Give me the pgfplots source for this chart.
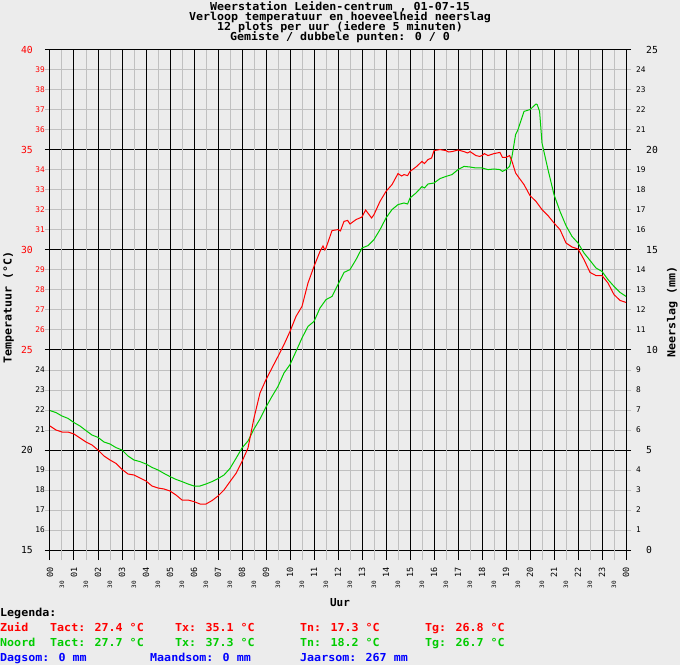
\documentclass[border=0pt]{standalone}
\usepackage{pgfplots}
\pgfplotsset{compat=1.18}
\usepackage{fontspec}
\newfontfamily\pix{DejaVu Sans Mono}
\definecolor{bg}{RGB}{236,236,236}
\definecolor{lgray}{RGB}{192,192,192}
\definecolor{ngreen}{RGB}{0,204,0}
\definecolor{nblue}{RGB}{0,0,255}
\newcommand\tfont{\pix\bfseries\fontsize{11}{10}\selectfont}
\newcommand\majf{\pix\fontsize{9.7}{10}\selectfont}
\newcommand\minf{\pix\fontsize{7.8}{8}\selectfont}
\newcommand\hrf{\pix\fontsize{8.5}{8}\selectfont}
\newcommand\hhf{\pix\fontsize{6}{6}\selectfont}
\newcommand\Rm[1]{\textcolor{red}{\majf #1}\hspace*{12pt}}
\newcommand\Km[1]{{\majf #1}\hspace*{12pt}}
\newcommand\Rs[1]{\textcolor{red}{\minf #1}}
\newcommand\Ks[1]{{\minf #1}}
\newcommand\Jm[1]{\hspace*{10pt}{\majf #1}}
\newcommand\Js[1]{{\minf #1}}
\newcommand\Hr[1]{#1\hspace*{7pt}}
\newcommand\Hh{{\hhf 30}\hspace*{21pt}}
\newcommand\W[1]{\scalebox{1.06}[1]{#1}}

\pgfplotstableread{
h T
0 21.2
0.25 21.0
0.5 20.9
0.75 20.9
1 20.8
1.25 20.6
1.5 20.4
1.75 20.25
2 20.0
2.25 19.7
2.5 19.5
2.75 19.33
3 19.03
3.25 18.8
3.5 18.75
3.75 18.6
4 18.45
4.25 18.2
4.5 18.1
4.75 18.05
5 17.95
5.25 17.75
5.5 17.5
5.75 17.5
6 17.42
6.25 17.3
6.5 17.3
6.75 17.47
7 17.7
7.25 18.0
7.5 18.42
7.75 18.83
8 19.42
8.25 20.1
8.5 21.6
8.75 22.85
9 23.52
9.25 24.1
9.5 24.68
9.75 25.27
10 25.93
10.25 26.68
10.5 27.18
10.75 28.35
11 29.18
11.25 29.93
11.375 30.2
11.45 30.0
11.5 30.1
11.75 30.97
12 31.02
12.1 30.95
12.25 31.43
12.4 31.48
12.5 31.3
12.75 31.52
13 31.65
13.15 32.0
13.4 31.6
13.5 31.77
13.75 32.43
14 32.93
14.25 33.27
14.5 33.82
14.65 33.7
14.75 33.77
14.9 33.72
15 33.93
15.25 34.15
15.5 34.43
15.6 34.32
15.75 34.52
15.9 34.6
16 34.97
16.25 35.02
16.5 34.97
16.6 34.9
16.75 34.92
17 35.0
17.25 34.92
17.4 34.85
17.5 34.92
17.75 34.72
17.9 34.68
18 34.72
18.1 34.82
18.25 34.72
18.5 34.82
18.75 34.88
18.85 34.63
19 34.63
19.15 34.72
19.25 34.43
19.4 33.85
19.5 33.68
19.75 33.27
20 32.72
20.25 32.43
20.5 32.02
20.75 31.72
21 31.35
21.25 31.02
21.5 30.35
21.75 30.15
22 30.05
22.25 29.52
22.5 28.88
22.75 28.72
23 28.72
23.25 28.35
23.5 27.77
23.75 27.48
24 27.38
}\zuid

\pgfplotstableread{
h T
0 21.97
0.25 21.87
0.5 21.7
0.75 21.58
1 21.37
1.25 21.2
1.5 20.97
1.75 20.75
2 20.63
2.25 20.4
2.5 20.3
2.75 20.12
3 20.0
3.25 19.7
3.5 19.5
3.75 19.42
4 19.3
4.25 19.13
4.5 19.0
4.75 18.83
5 18.67
5.25 18.53
5.5 18.42
5.75 18.3
6 18.2
6.25 18.2
6.5 18.3
6.75 18.42
7 18.57
7.25 18.75
7.5 19.08
7.75 19.58
8 20.1
8.25 20.45
8.5 21.05
8.75 21.55
9 22.15
9.25 22.68
9.5 23.18
9.75 23.85
10 24.27
10.25 24.93
10.5 25.6
10.75 26.18
11 26.43
11.25 27.1
11.5 27.52
11.75 27.68
12 28.27
12.25 28.88
12.5 29.02
12.75 29.52
13 30.1
13.25 30.22
13.5 30.52
13.75 31.02
14 31.6
14.25 32.02
14.5 32.27
14.75 32.35
14.9 32.3
15 32.6
15.25 32.85
15.5 33.17
15.6 33.1
15.75 33.3
16 33.35
16.25 33.57
16.5 33.68
16.75 33.77
17 34.02
17.25 34.18
17.5 34.15
17.75 34.1
18 34.1
18.25 34.02
18.5 34.05
18.75 34.02
18.85 33.93
19 34.02
19.15 34.18
19.25 34.68
19.4 35.77
19.5 36.02
19.75 36.93
20 37.02
20.25 37.3
20.3 37.27
20.4 36.93
20.5 35.35
20.75 34.02
21 32.77
21.25 31.93
21.5 31.22
21.75 30.68
22 30.35
22.25 29.85
22.5 29.48
22.75 29.1
23 28.93
23.25 28.52
23.5 28.18
23.75 27.88
24 27.68
}\noord

\begin{document}
\begin{tikzpicture}
\fill[bg] (0,0) rectangle (680pt,665pt);
\useasboundingbox (0,0) rectangle (680pt,665pt);

% Axis B: horizontal grid, left tick labels
\begin{axis}[at={(50pt,115pt)}, anchor=south west, scale only axis,
  width=576pt, height=500pt, xmin=0, xmax=24, ymin=15, ymax=40,
  axis line style={draw=none}, xtick=\empty,
  ytick={15,20,...,40},
  yticklabels={\Km{15},\Km{20},\Rm{25},\Rm{30},\Rm{35},\Rm{40}},
  tick align=outside, major tick length=5pt,
  ymajorgrids, major grid style={black, line width=1pt},
  major tick style={black, line width=1pt},
  yticklabel style={anchor=east, inner sep=0pt},
  extra y ticks={16,17,18,19,21,22,23,24,26,27,28,29,31,32,33,34,36,37,38,39},
  extra y tick labels={\Ks{16},\Ks{17},\Ks{18},\Ks{19},\Ks{21},\Ks{22},\Ks{23},\Ks{24},\Rs{26},\Rs{27},\Rs{28},\Rs{29},\Rs{31},\Rs{32},\Rs{33},\Rs{34},\Rs{36},\Rs{37},\Rs{38},\Rs{39}},
  extra y tick style={ymajorgrids, major grid style={lgray, line width=1pt}, major tick style={lgray, line width=1pt}},
  ylabel={\W{Temperatuur (°C)}},
  ylabel style={at={(axis description cs:-0.0667,0.485)}, anchor=base, font=\tfont, inner sep=0pt},
]
\end{axis}

% Axis A: vertical grid, hour labels, data
\begin{axis}[at={(50pt,115pt)}, anchor=south west, scale only axis,
  width=576pt, height=500pt, xmin=0, xmax=24, ymin=15, ymax=40,
  axis line style={draw=none}, ytick=\empty,
  xtick={0,1,...,24},
  xticklabels={\Hr{00},\Hr{01},\Hr{02},\Hr{03},\Hr{04},\Hr{05},\Hr{06},\Hr{07},\Hr{08},\Hr{09},\Hr{10},\Hr{11},\Hr{12},\Hr{13},\Hr{14},\Hr{15},\Hr{16},\Hr{17},\Hr{18},\Hr{19},\Hr{20},\Hr{21},\Hr{22},\Hr{23},\Hr{00}},
  xtick pos=left, tick align=outside, major tick length=10pt,
  xmajorgrids, major grid style={black, line width=1pt},
  major tick style={black, line width=1pt},
  xticklabel style={rotate=90, anchor=east, inner sep=0pt, font=\hrf},
  extra x ticks={0.5,1.5,...,23.5},
  extra x tick labels={\Hh,\Hh,\Hh,\Hh,\Hh,\Hh,\Hh,\Hh,\Hh,\Hh,\Hh,\Hh,\Hh,\Hh,\Hh,\Hh,\Hh,\Hh,\Hh,\Hh,\Hh,\Hh,\Hh,\Hh},
  extra x tick style={xmajorgrids, major grid style={lgray, line width=1pt}, major tick style={lgray, line width=1pt}},
  xlabel={Uur},
  xlabel style={at={(axis description cs:0.5035,-0.112)}, anchor=base, font=\tfont, inner sep=0pt},
]
\addplot[ngreen, line width=1pt] table[x=h, y=T] {\noord};
\addplot[red, line width=1pt] table[x=h, y=T] {\zuid};
\end{axis}

% Axis C: right labels (Neerslag)
\begin{axis}[at={(50pt,115pt)}, anchor=south west, scale only axis,
  width=576pt, height=500pt, xmin=0, xmax=24, ymin=0, ymax=25,
  axis line style={draw=none}, xtick=\empty,
  ytick={0,5,...,25},
  yticklabels={\Jm{0},\Jm{5},\Jm{10},\Jm{15},\Jm{20},\Jm{25}},
  yticklabel pos=right, major tick length=0pt,
  yticklabel style={anchor=west, inner sep=0pt, xshift=10pt},
  extra y ticks={1,2,3,4,6,7,8,9,11,12,13,14,16,17,18,19,21,22,23,24},
  extra y tick labels={\Js{1},\Js{2},\Js{3},\Js{4},\Js{6},\Js{7},\Js{8},\Js{9},\Js{11},\Js{12},\Js{13},\Js{14},\Js{16},\Js{17},\Js{18},\Js{19},\Js{21},\Js{22},\Js{23},\Js{24}},
  ylabel={\W{Neerslag (mm)}},
  ylabel style={at={(axis description cs:1.0859,0.4766)}, anchor=base, font=\tfont, inner sep=0pt},
]
\end{axis}

\begin{scope}[every node/.style={anchor=base, inner sep=0pt, font=\tfont}]
\node at (340pt,654pt) {\W{Weerstation Leiden-centrum , 01-07-15}};
\node at (340pt,644pt) {\W{Verloop temperatuur en hoeveelheid neerslag}};
\node at (340pt,634pt) {\W{12 plots per uur (iedere 5 minuten)}};
\node at (340pt,624pt) {\W{Gemiste / dubbele punten: 0 / 0}};
\end{scope}

\begin{scope}[every node/.style={anchor=base west, inner sep=0pt, font=\tfont}]
\node at (0pt,49pt) {\W{Legenda:}};
\node[red] at (0pt,34pt) {\W{Zuid}};
\node[red] at (50pt,34pt) {\W{Tact: 27.4 °C}};
\node[red] at (175pt,34pt) {\W{Tx: 35.1 °C}};
\node[red] at (300pt,34pt) {\W{Tn: 17.3 °C}};
\node[red] at (425pt,34pt) {\W{Tg: 26.8 °C}};
\node[ngreen] at (0pt,19pt) {\W{Noord}};
\node[ngreen] at (50pt,19pt) {\W{Tact: 27.7 °C}};
\node[ngreen] at (175pt,19pt) {\W{Tx: 37.3 °C}};
\node[ngreen] at (300pt,19pt) {\W{Tn: 18.2 °C}};
\node[ngreen] at (425pt,19pt) {\W{Tg: 26.7 °C}};
\node[nblue] at (0pt,4pt) {\W{Dagsom: 0 mm}};
\node[nblue] at (150pt,4pt) {\W{Maandsom: 0 mm}};
\node[nblue] at (300pt,4pt) {\W{Jaarsom: 267 mm}};
\end{scope}
\end{tikzpicture}
\end{document}
